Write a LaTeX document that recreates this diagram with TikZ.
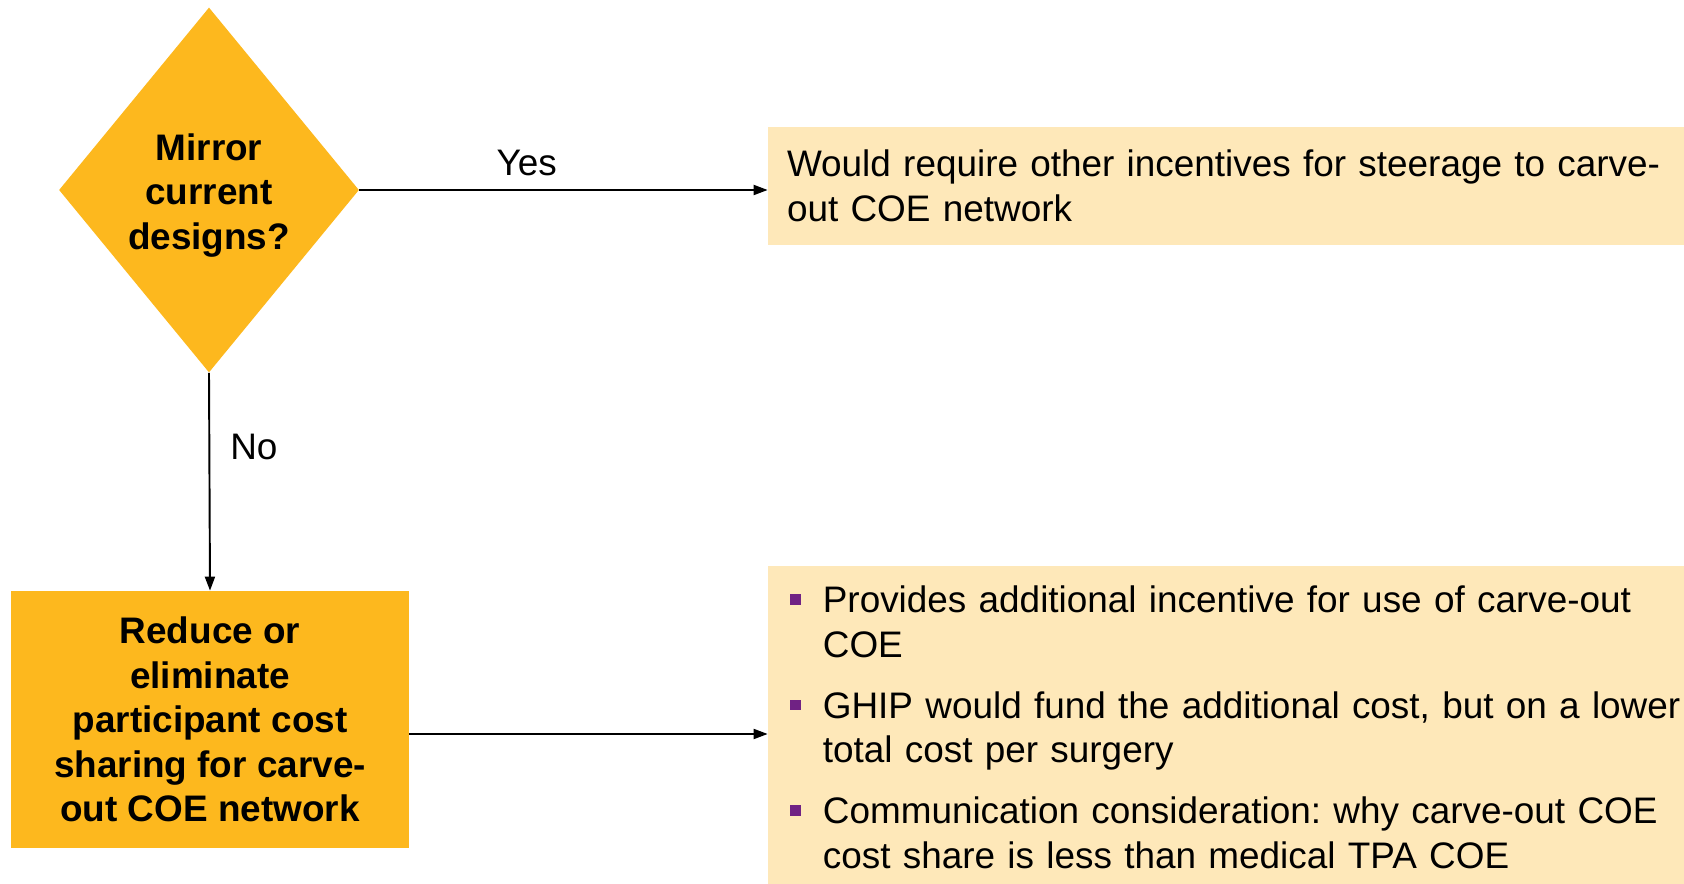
\documentclass[tikz,border=0pt]{standalone}
\usepackage{fontspec}
\setmainfont{Liberation Sans}
\usetikzlibrary{shapes.geometric,arrows.meta,positioning}

\definecolor{decisiongold}{RGB}{253,184,30}
\definecolor{notecream}{RGB}{254,232,185}
\definecolor{bulpurple}{RGB}{112,34,132}

\newcommand{\bodysize}{\fontsize{21}{25.3}\selectfont\frenchspacing}
% small square bullet, sitting at mid cap height
\newcommand{\sqbul}{\textcolor{bulpurple}{\rule[4.4pt]{6.2pt}{6.2pt}}}

\tikzset{
  decision/.style={diamond, fill=decisiongold, inner sep=0pt, shape aspect=0.82,
    minimum width=6cm, minimum height=7.3cm, align=center, font=\bodysize\bfseries},
  actionbox/.style={rectangle, fill=decisiongold, inner sep=0pt,
    minimum width=7.96cm, minimum height=5.14cm, align=center, font=\bodysize\bfseries},
  notebox/.style={rectangle, fill=notecream, align=left},
  arr/.style={-{Triangle[length=0.28cm,width=0.2cm]}, line width=1.1pt},
}

\begin{document}
\begin{tikzpicture}[font=\bodysize]

\useasboundingbox (0,0) rectangle (33.68,-17.68);

% decision and the two outcomes
\node[decision] (mirror) at (4.18,-3.80)
  {\raisebox{-0.12cm}[\height][\depth]{\begin{tabular}{@{}c@{}}Mirror\\current\\designs?\end{tabular}}};
\node[actionbox] (reduce) at (4.20,-14.39)
  {Reduce or\\eliminate\\participant cost\\sharing for carve-\\out COE network};

\node[notebox, text width=17.56cm, inner xsep=0.38cm, minimum height=2.36cm]
  (steerage) at (24.52,-3.72)
  {Would require other incentives for steerage to carve-\\out COE network};

\node[notebox, text width=17.44cm, inner xsep=0.44cm, minimum height=6.36cm]
  (effects) at (24.52,-14.50)
  {\raisebox{-0.13cm}[\height][\depth]{\begin{tabular}{@{}l@{\hspace{12.5pt}}l@{}}
    \sqbul & Provides additional incentive for use of carve-out\\
           & COE\\[9.4pt]
    \sqbul & GHIP would fund the additional cost, but on a lower\\
           & total cost per surgery\\[9.4pt]
    \sqbul & Communication consideration: why carve-out COE\\
           & cost share is less than medical TPA COE
  \end{tabular}}};

% connectors
\draw[arr] (mirror.east) -- (mirror.east -| steerage.west)
  node[pos=0.41, anchor=base, yshift=0.28cm] (yes) {Yes};
\draw[arr] (mirror.south) -- (reduce.north)
  node[pos=0.34, right=0.4cm, inner sep=0pt] (no) {No};
\draw[arr] ([yshift=-0.29cm]reduce.east) -- ([yshift=-0.29cm]reduce.east -| effects.west);

\end{tikzpicture}
\end{document}
